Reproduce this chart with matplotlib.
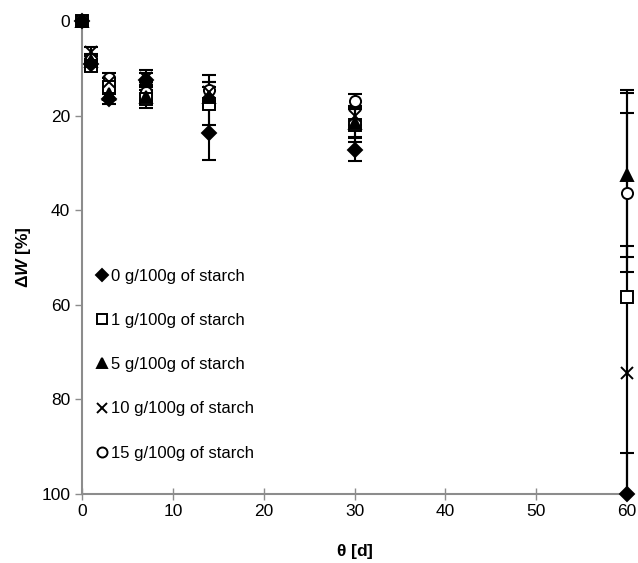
import matplotlib
matplotlib.use("Agg")
import matplotlib.pyplot as plt
from matplotlib.patches import Rectangle

plt.rcParams['font.family'] = ['Liberation Sans', 'DejaVu Sans']
plt.rcParams['mathtext.fontset'] = 'custom'
plt.rcParams['mathtext.bfit'] = 'Liberation Sans:bold:italic'
plt.rcParams['mathtext.bf'] = 'Liberation Sans:bold'

# storage time [d]
days = [0, 1, 3, 7, 14, 30, 60]

# weight loss dW [%] per starch level, with error bars
labels = ["0 g/100g of starch", "1 g/100g of starch", "5 g/100g of starch",
          "10 g/100g of starch", "15 g/100g of starch"]
w0 = [0, 9.0, 16.5, 12.5, 23.7, 27.2, 100]
w1 = [0, 9.5, 14.0, 16.5, 17.5, 22.0, 58.3]
w5 = [0, 8.5, 15.5, 16.0, 16.0, 21.5, 32.6]
w10 = [0, 6.5, 13.0, 12.0, 15.0, 20.0, 74.5]
w15 = [0, 8.0, 12.0, 15.0, 14.5, 17.0, 36.3]
e0 = [0, 1.0, 1.0, 1.5, 5.6, 2.5, 8.6]
e1 = [0, 1.0, 1.0, 1.9, 4.5, 3.6, 43.7]
e5 = [0, 1.0, 1.0, 1.5, 2.0, 3.0, 17.3]
e10 = [0, 1.0, 1.0, 1.6, 2.0, 2.0, 27.0]
e15 = [0, 1.0, 1.0, 2.0, 3.0, 1.6, 16.8]

series = [w0, w1, w5, w10, w15]
errs = [e0, e1, e5, e10, e15]
markers = ['D', 's', '^', 'x', 'o']
faces = ['black', 'white', 'black', 'black', 'white']
sizes = [7, 8, 8, 8, 8]
zorders = [6, 5, 7, 8, 4]

fig = plt.figure(figsize=(6.38, 5.63), dpi=100)
ax = fig.add_axes([0.1285, 0.1226, 0.8545, 0.8401])

# clip error bars only top/bottom so the bars on x=60 stay whole
clip_rect = Rectangle((-0.1, 0), 1.2, 1.0, transform=ax.transAxes,
                      facecolor='none', edgecolor='none')

for vals, err, m, fc, ms, lab, z in zip(series, errs, markers, faces, sizes, labels, zorders):
    eb = ax.errorbar(days, vals, yerr=err, fmt='none', ecolor='black',
                     elinewidth=1.5, capsize=5, capthick=1.5)
    for art in eb.lines[1] + eb.lines[2]:
        art.set_clip_path(clip_rect)
    ax.plot(days, vals, linestyle='none', marker=m, markersize=ms,
            markerfacecolor=fc, markeredgecolor='black', markeredgewidth=1.4,
            label=lab, clip_on=False, zorder=z)

ax.set_xlim(0, 60)
ax.set_ylim(100, 0)
ax.set_xticks([0, 10, 20, 30, 40, 50, 60])
ax.set_yticks([0, 20, 40, 60, 80, 100])

for side in ['top', 'right']:
    ax.spines[side].set_visible(False)
for side in ['left', 'bottom']:
    ax.spines[side].set_color('#8c8c8c')
    ax.spines[side].set_linewidth(1.5)
ax.tick_params(colors='#8c8c8c', labelcolor='black', labelsize=12.5, length=5, width=1)
ax.tick_params(axis='x', direction='inout', length=8)

ax.set_xlabel(r'$\mathbf{\theta}$ [d]', fontsize=12.5, fontweight='bold', labelpad=16)
ax.set_ylabel(r'Δ$\mathbfit{W}$ [%]', fontsize=12.5, fontweight='bold', labelpad=6)

ax.legend(loc='upper left', bbox_to_anchor=(0.01, 0.49), frameon=False,
          fontsize=12, handletextpad=0.0, labelspacing=1.75, handlelength=1.0,
          borderaxespad=0, markerscale=0.9)

fig.savefig('out.png', dpi=100)
